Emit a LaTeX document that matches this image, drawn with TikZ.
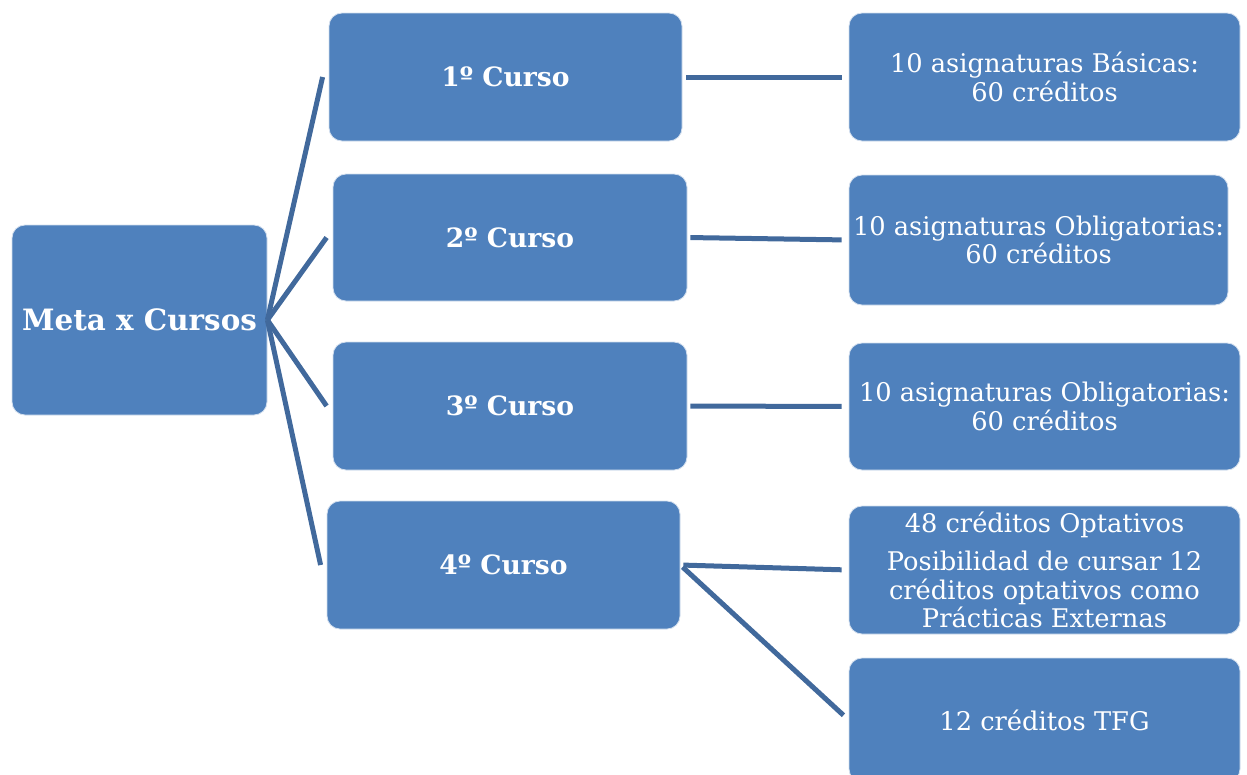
\documentclass[tikz,border=0pt]{standalone}
\usepackage{fontspec}
\setmainfont{DejaVu Serif}
\usepackage{tikz}

\definecolor{cajazul}{HTML}{4F81BD}
\definecolor{lineazul}{HTML}{41699C}
\tikzset{
  caja/.style={draw=white!75!cajazul, line width=0.8pt, fill=cajazul,
    rounded corners=13pt, text=white, inner sep=0pt, align=center},
  curso/.style={caja, font=\bfseries\fontsize{26.6}{30}\selectfont},
  dato/.style={caja, font=\fontsize{25.7}{28.5}\selectfont},
  enlace/.style={draw=lineazul, line width=5pt}
}

\begin{document}
\begin{tikzpicture}[x=1pt,y=-1pt]
\useasboundingbox (0,0) rectangle (1247,774);

\node[caja, font=\bfseries\fontsize{29.4}{33}\selectfont,
  minimum width=255, minimum height=190] (meta) at (139.5,320) {Meta x Cursos};

\node[curso, minimum width=353, minimum height=128] (c1) at (505.5,77) {1º Curso};
\node[curso, minimum width=354, minimum height=127] (c2) at (510,237.5) {2º Curso};
\node[curso, minimum width=354, minimum height=128] (c3) at (510,406) {3º Curso};
\node[curso, minimum width=353, minimum height=128] (c4) at (503.5,565) {4º Curso};

\node[dato, minimum width=391, minimum height=128] (r1) at (1044.5,77)
  {10 asignaturas Básicas:\\60 créditos};
\node[dato, minimum width=379, minimum height=130] (r2) at (1038.5,240)
  {10 asignaturas Obligatorias:\\60 créditos};
\node[dato, minimum width=391, minimum height=127] (r3) at (1044.5,406.5)
  {10 asignaturas Obligatorias:\\60 créditos};
\node[dato, minimum width=391, minimum height=128] (r4) at (1044.5,570)
  {48 créditos Optativos\\[10pt]Posibilidad de cursar 12\\créditos optativos como\\Prácticas Externas};
\node[dato, minimum width=391, minimum height=124] (r5) at (1044.5,720) {12 créditos TFG};

% meta -> cursos
\foreach \c in {c1,c2,c3,c4}
\draw[enlace] (meta.east) -- ([xshift=-6pt]\c.west);

% cursos -> datos
\draw[enlace, shorten <=4pt, shorten >=7pt] (c1.east) -- (r1.west);
\draw[enlace, shorten <=3pt, shorten >=7pt] (c2.east) -- (r2.west);
\draw[enlace, shorten <=3pt, shorten >=7pt] (c3.east) -- (r3.west);
\draw[enlace, shorten <=3pt, shorten >=7pt] (c4.east) -- (r4.west);
\draw[enlace, shorten <=3pt, shorten >=7pt] (c4.east) -- (r5.west);

\end{tikzpicture}
\end{document}
